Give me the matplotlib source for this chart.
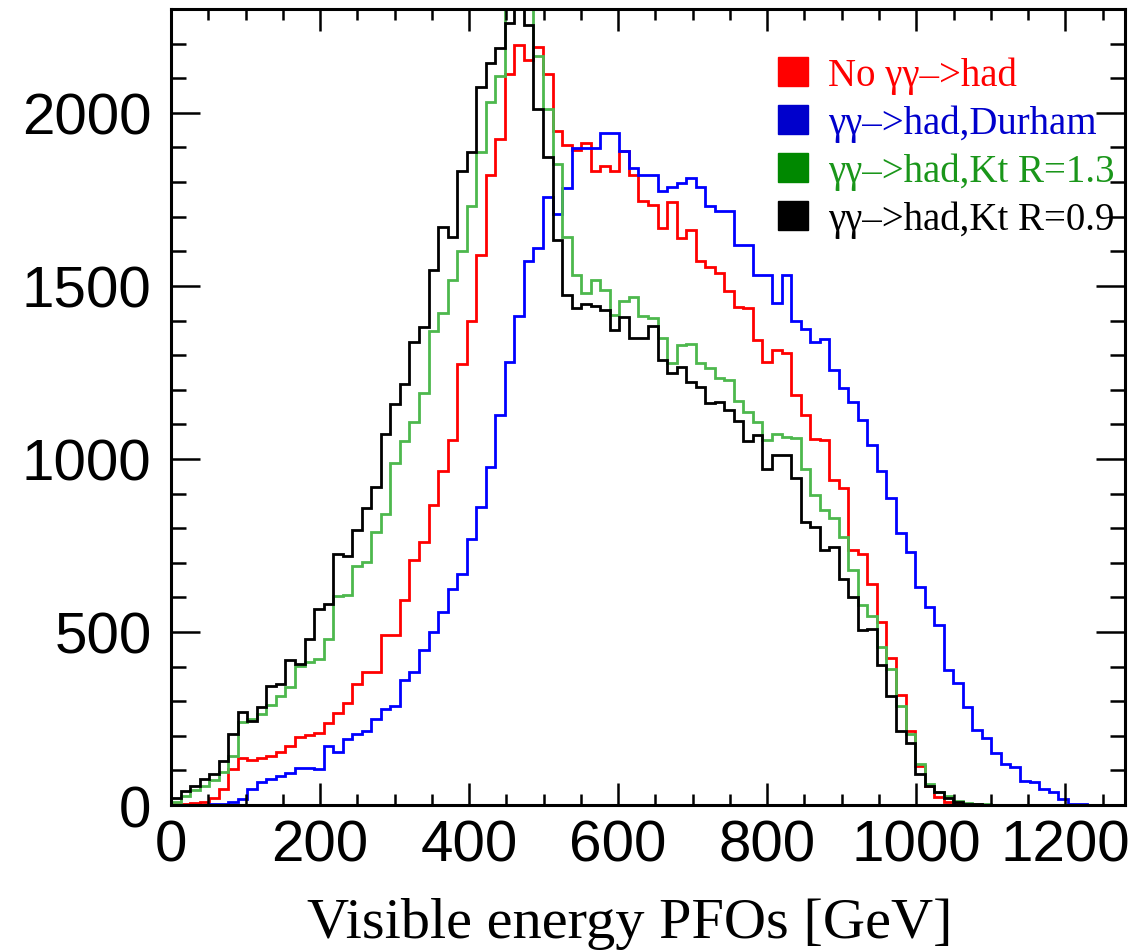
import numpy as np
import matplotlib
matplotlib.use("Agg")
import matplotlib.pyplot as plt
from matplotlib.patches import Patch
from matplotlib.ticker import MultipleLocator

# histogram binning: 100 bins from 0 to 1280 GeV
n_bins = 100
e_min, e_max = 0.0, 1280.0

# bin contents
no_gghad = [2, 3, 5, 10, 19, 46, 104, 136, 131, 136,
            143, 154, 172, 197, 203, 208, 237, 266, 295, 350,
            385, 385, 492, 492, 593, 708, 759, 866, 966, 1056,
            1275, 1399, 1590, 1821, 1925, 2113, 2195, 2154, 2189, 2111,
            1947, 1908, 1894, 1913, 1831, 1846, 1831, 1889, 1821, 1744,
            1735, 1667, 1742, 1638, 1662, 1571, 1556, 1537, 1484, 1440,
            1436, 1344, 1281, 1315, 1305, 1185, 1127, 1059, 1054, 940,
            916, 738, 724, 638, 530, 425, 318, 215, 114, 54,
            23, 8, 5, 3, 2, 1, 1, 0, 0, 0,
            0, 0, 0, 0, 0, 0, 0, 0, 0, 0]

durham = [0, 0, 1, 1, 2, 3, 10, 17, 46, 67,
          75, 83, 94, 106, 108, 104, 172, 154, 191, 205,
          215, 249, 278, 287, 360, 384, 447, 500, 558, 625,
          669, 770, 862, 977, 1127, 1281, 1414, 1571, 1609, 1756,
          1709, 1783, 1899, 1899, 1899, 1942, 1942, 1889, 1841, 1821,
          1821, 1773, 1787, 1797, 1812, 1787, 1730, 1715, 1715, 1619,
          1619, 1532, 1532, 1450, 1532, 1399, 1376, 1339, 1347, 1257,
          1204, 1164, 1112, 1041, 966, 888, 786, 732, 630, 572,
          521, 389, 353, 283, 218, 193, 150, 119, 109, 70,
          67, 46, 38, 17, 3, 2, 1, 1, 0, 0]

kt_13 = [8, 25, 44, 56, 73, 95, 143, 239, 249, 262,
         290, 316, 341, 403, 413, 423, 480, 604, 606, 690,
         703, 789, 840, 987, 1051, 1106, 1190, 1370, 1421, 1516,
         1600, 1730, 1887, 2032, 2106, 2380, 2420, 2360, 2164, 2010,
         1853, 1642, 1531, 1479, 1518, 1489, 1416, 1457, 1469, 1414,
         1407, 1349, 1276, 1330, 1332, 1276, 1262, 1233, 1228, 1168,
         1137, 1106, 1054, 1071, 1064, 1061, 972, 895, 852, 828,
         775, 680, 577, 545, 456, 394, 287, 205, 119, 61,
         37, 27, 12, 6, 4, 2, 1, 0, 0, 0,
         0, 0, 0, 0, 0, 0, 0, 0, 0, 0]

kt_09 = [20, 40, 56, 75, 90, 128, 205, 268, 244, 283,
         345, 350, 418, 408, 480, 565, 582, 725, 720, 794,
         857, 919, 1071, 1158, 1216, 1339, 1380, 1545, 1669, 1640,
         1831, 1887, 2074, 2145, 2187, 2260, 2320, 2253, 2010, 1871,
         1633, 1474, 1436, 1447, 1443, 1431, 1373, 1411, 1349, 1349,
         1383, 1286, 1247, 1267, 1223, 1209, 1161, 1165, 1140, 1110,
         1052, 1069, 971, 1011, 1011, 944, 818, 804, 736, 746,
         654, 601, 507, 509, 405, 316, 215, 180, 90, 56,
         37, 20, 8, 4, 2, 1, 0, 0, 0, 0,
         0, 0, 0, 0, 0, 0, 0, 0, 0, 0]

labels = ["No \u03b3\u03b3\u2013>had", "\u03b3\u03b3\u2013>had,Durham",
          "\u03b3\u03b3\u2013>had,Kt R=1.3", "\u03b3\u03b3\u2013>had,Kt R=0.9"]
line_colors = ["#ff0000", "#0000ff", "#4db84d", "#000000"]
box_colors = ["#ff0000", "#0000cc", "#008800", "#000000"]
text_colors = ["#ff0000", "#0000cc", "#1a961a", "#000000"]

edges = np.linspace(e_min, e_max, n_bins + 1)

fig = plt.figure(figsize=(11.36, 9.53), dpi=100)
ax = fig.add_axes([0.1505, 0.1542, 0.8398, 0.8353])

for vals, col in zip([no_gghad, durham, kt_13, kt_09], line_colors):
    ax.stairs(vals, edges, color=col, linewidth=2.0, baseline=None)

ax.set_xlim(e_min, e_max)
ax.set_ylim(0, 2300)

ax.xaxis.set_major_locator(MultipleLocator(200))
ax.xaxis.set_minor_locator(MultipleLocator(50))
ax.yaxis.set_major_locator(MultipleLocator(500))
ax.yaxis.set_minor_locator(MultipleLocator(100))

for s in ax.spines.values():
    s.set_linewidth(2.2)

ax.tick_params(which="both", direction="in", top=True, right=True, width=1.8)
ax.tick_params(axis="y", which="major", length=21, pad=14)
ax.tick_params(axis="y", which="minor", length=11)
ax.tick_params(axis="x", which="major", length=16, pad=10)
ax.tick_params(axis="x", which="minor", length=8)

for lab in ax.get_xticklabels() + ax.get_yticklabels():
    lab.set_fontfamily("Liberation Sans")
    lab.set_fontsize(42)

ax.set_xlabel("Visible energy PFOs [GeV]", fontfamily="Liberation Serif",
              fontsize=42)
ax.xaxis.set_label_coords(0.481, -0.115)

handles = [Patch(facecolor=c, edgecolor=c) for c in box_colors]
ax.legend(handles, labels, loc="upper left", bbox_to_anchor=(0.685, 0.94),
          bbox_transform=fig.transFigure, frameon=False,
          prop={"family": "Liberation Serif", "size": 28},
          labelcolor=text_colors, handlelength=0.77, handleheight=0.77,
          handletextpad=0.52, labelspacing=0.27, borderpad=0, borderaxespad=0)

plt.savefig("out.png", dpi=100)
